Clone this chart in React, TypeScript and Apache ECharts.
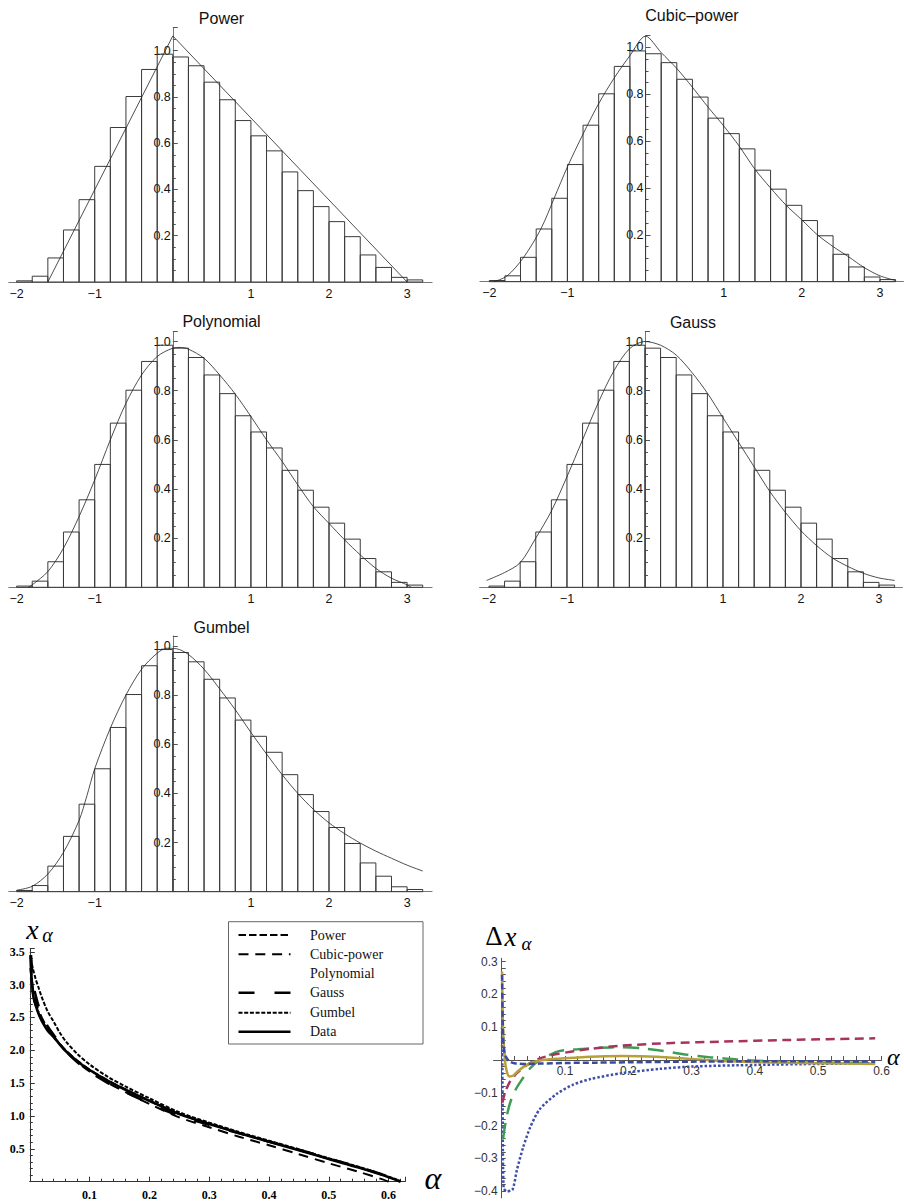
import React, { useEffect, useRef } from "react";
import * as echarts from "echarts";

// ---------- data ----------
const BIN_EDGES = [-2.0, -1.8, -1.6, -1.4, -1.2, -1.0, -0.8, -0.6, -0.4, -0.2, 0.0, 0.2, 0.4, 0.6, 0.8, 1.0, 1.2, 1.4, 1.6, 1.8, 2.0, 2.2, 2.4, 2.6, 2.8, 3.0, 3.2];
const BIN_HEIGHTS = [0.005, 0.025, 0.104, 0.225, 0.356, 0.5, 0.668, 0.802, 0.919, 0.985, 0.973, 0.935, 0.864, 0.788, 0.698, 0.632, 0.567, 0.476, 0.395, 0.326, 0.261, 0.196, 0.117, 0.063, 0.02, 0.009];
const HIST_X_LABELS = [-2, -1, 1, 2, 3];
const PANEL_TITLES = ["Power", "Cubic\u2013power", "Polynomial", "Gauss", "Gumbel"];

const POWER_FIT = [[-1.6, 0], [0, 1.064], [3.0, 0]];
const CUBIC_FIT = [[-1.94, 0], [-1.77, 0.025], [-1.56, 0.104], [-1.34, 0.225], [-1.17, 0.356], [-1.0, 0.49], [-0.8, 0.63], [-0.6, 0.76], [-0.4, 0.87], [-0.2, 0.965], [0, 1.048], [0.2, 0.978], [0.4, 0.91], [0.6, 0.83], [0.8, 0.745], [1.0, 0.665], [1.2, 0.578], [1.4, 0.48], [1.6, 0.4], [1.8, 0.326], [2.0, 0.264], [2.2, 0.2], [2.4, 0.15], [2.6, 0.106], [2.8, 0.06], [3.0, 0.025], [3.2, 0.005]];
const POLY_FIT = [[-1.85, 0], [-1.8, 0.01], [-1.6, 0.064], [-1.4, 0.159], [-1.2, 0.288], [-1.0, 0.437], [-0.8, 0.6], [-0.6, 0.749], [-0.4, 0.864], [-0.2, 0.939], [0, 0.973], [0.1, 0.976], [0.2, 0.969], [0.4, 0.932], [0.6, 0.864], [0.8, 0.786], [1.0, 0.695], [1.2, 0.6], [1.4, 0.512], [1.6, 0.417], [1.8, 0.328], [2.0, 0.26], [2.2, 0.193], [2.4, 0.132], [2.6, 0.077], [2.8, 0.037], [3.0, 0.01], [3.05, 0]];
const GAUSS_FIT = [[-2.03, 0.028], [-1.8, 0.06], [-1.6, 0.1], [-1.4, 0.2], [-1.2, 0.31], [-1.0, 0.45], [-0.8, 0.6], [-0.6, 0.75], [-0.4, 0.88], [-0.2, 0.97], [0, 1.0], [0.2, 0.985], [0.4, 0.945], [0.6, 0.875], [0.8, 0.79], [1.0, 0.69], [1.2, 0.59], [1.4, 0.49], [1.6, 0.39], [1.8, 0.305], [2.0, 0.23], [2.2, 0.17], [2.4, 0.12], [2.6, 0.085], [2.8, 0.057], [3.0, 0.038], [3.2, 0.028]];
const GUMBEL_FIT = [[-2.0, 0.006], [-1.8, 0.022], [-1.6, 0.072], [-1.4, 0.16], [-1.2, 0.29], [-1.1, 0.39], [-1.0, 0.5], [-0.8, 0.665], [-0.6, 0.8], [-0.4, 0.905], [-0.2, 0.97], [-0.08, 0.99], [0.05, 0.988], [0.2, 0.965], [0.4, 0.905], [0.6, 0.825], [0.8, 0.74], [1.0, 0.648], [1.2, 0.56], [1.4, 0.476], [1.6, 0.4], [1.8, 0.335], [2.0, 0.28], [2.2, 0.236], [2.4, 0.198], [2.6, 0.165], [2.8, 0.136], [3.0, 0.108], [3.2, 0.084]];
const FITS = [POWER_FIT, CUBIC_FIT, POLY_FIT, GAUSS_FIT, GUMBEL_FIT];

// quantile curves x_alpha vs alpha
const Q_DATA = [[0.001, 3.45], [0.003, 3.1], [0.006, 2.82], [0.01, 2.68], [0.015, 2.55], [0.02, 2.45], [0.03, 2.3], [0.04, 2.2], [0.05, 2.09], [0.06, 1.99], [0.08, 1.83], [0.1, 1.7], [0.13, 1.54], [0.16, 1.4], [0.2, 1.23], [0.25, 1.03], [0.3, 0.88], [0.35, 0.74], [0.4, 0.61], [0.45, 0.48], [0.5, 0.345], [0.55, 0.215], [0.59, 0.1], [0.61, 0.035], [0.62, 0.0]];
const Q_POWER = [[0.001, 3.25], [0.003, 3.05], [0.006, 2.81], [0.01, 2.68], [0.015, 2.555], [0.02, 2.46], [0.03, 2.31], [0.04, 2.21], [0.05, 2.1], [0.06, 2.0], [0.08, 1.84], [0.1, 1.708], [0.13, 1.547], [0.16, 1.407], [0.2, 1.236], [0.25, 1.035], [0.3, 0.884], [0.35, 0.743], [0.4, 0.613], [0.45, 0.483], [0.5, 0.349], [0.55, 0.219], [0.59, 0.105], [0.61, 0.04], [0.62, 0.005]];
const Q_CUBIC = [[0.002, 3.3], [0.005, 2.95], [0.01, 2.755], [0.015, 2.61], [0.02, 2.5], [0.03, 2.33], [0.04, 2.215], [0.05, 2.095], [0.06, 1.985], [0.08, 1.817], [0.1, 1.678], [0.13, 1.51], [0.16, 1.362], [0.2, 1.185], [0.25, 0.98], [0.3, 0.83], [0.35, 0.684], [0.4, 0.555], [0.45, 0.419], [0.5, 0.28], [0.55, 0.151], [0.59, 0.035], [0.6, 0.0]];
const Q_POLY = [[0.001, 3.25], [0.003, 3.04], [0.006, 2.84], [0.01, 2.725], [0.015, 2.6], [0.02, 2.495], [0.03, 2.327], [0.04, 2.215], [0.05, 2.097], [0.06, 1.992], [0.08, 1.827], [0.1, 1.694], [0.13, 1.531], [0.16, 1.389], [0.2, 1.218], [0.25, 1.02], [0.3, 0.877], [0.35, 0.743], [0.4, 0.616], [0.45, 0.488], [0.5, 0.355], [0.55, 0.226], [0.59, 0.112], [0.61, 0.045], [0.62, 0.01]];
const Q_GAUSS = [[0.002, 3.45], [0.006, 3.01], [0.01, 2.83], [0.015, 2.67], [0.02, 2.55], [0.03, 2.365], [0.04, 2.235], [0.05, 2.105], [0.06, 1.99], [0.08, 1.812], [0.1, 1.67], [0.13, 1.505], [0.16, 1.362], [0.2, 1.192], [0.25, 1.001], [0.3, 0.865], [0.35, 0.735], [0.4, 0.61], [0.45, 0.486], [0.5, 0.353], [0.55, 0.223], [0.59, 0.109], [0.61, 0.045], [0.62, 0.01]];
const Q_GUMBEL = [[0.0015, 3.4], [0.005, 3.25], [0.01, 3.08], [0.015, 2.945], [0.02, 2.81], [0.03, 2.59], [0.04, 2.435], [0.05, 2.27], [0.06, 2.14], [0.08, 1.94], [0.1, 1.785], [0.13, 1.6], [0.16, 1.45], [0.2, 1.27], [0.25, 1.057], [0.3, 0.9], [0.35, 0.757], [0.4, 0.625], [0.45, 0.494], [0.5, 0.357], [0.55, 0.227], [0.59, 0.11], [0.61, 0.045], [0.62, 0.01]];
const Q_X_LABELS = [0.1, 0.2, 0.3, 0.4, 0.5, 0.6];
const Q_Y_LABELS = [0.5, 1.0, 1.5, 2.0, 2.5, 3.0, 3.5];
const LEGEND_NAMES = ["Power", "Cubic-power", "Polynomial", "Gauss", "Gumbel", "Data"];

// deviations delta x_alpha
const D_POWER = [[0.0005, 0.26], [0.0015, 0.12], [0.003, 0.04], [0.006, 0.012], [0.012, -0.004], [0.02, -0.01], [0.04, -0.012], [0.06, -0.011], [0.1, -0.009], [0.15, -0.008], [0.2, -0.007], [0.3, -0.005], [0.4, -0.004], [0.5, -0.004], [0.59, -0.005]];
const D_CUBIC = [[0.001, -0.13], [0.005, -0.1], [0.013, -0.066], [0.024, -0.04], [0.04, -0.015], [0.06, 0.005], [0.087, 0.018], [0.14, 0.034], [0.19, 0.044], [0.27, 0.052], [0.35, 0.056], [0.45, 0.061], [0.59, 0.066]];
const D_POLY = [[0.0005, 0.27], [0.002, 0.1], [0.005, 0.0], [0.008, -0.035], [0.012, -0.05], [0.018, -0.048], [0.025, -0.035], [0.035, -0.02], [0.05, -0.007], [0.065, 0.0], [0.09, 0.004], [0.14, 0.01], [0.19, 0.012], [0.245, 0.01], [0.3, 0.003], [0.35, -0.003], [0.4, -0.006], [0.5, -0.01], [0.59, -0.012]];
const D_GAUSS = [[0.002, -0.24], [0.008, -0.17], [0.015, -0.12], [0.022, -0.09], [0.03, -0.065], [0.045, -0.025], [0.06, 0.0], [0.075, 0.015], [0.09, 0.027], [0.12, 0.033], [0.155, 0.037], [0.19, 0.039], [0.22, 0.036], [0.25, 0.029], [0.29, 0.017], [0.33, 0.008], [0.37, 0.002], [0.42, -0.004], [0.47, -0.007], [0.53, -0.008], [0.59, -0.009]];
const D_GUMBEL = [[0.0005, 0.1], [0.0015, -0.15], [0.003, -0.39], [0.008, -0.4], [0.017, -0.395], [0.024, -0.335], [0.034, -0.265], [0.045, -0.205], [0.06, -0.15], [0.087, -0.103], [0.113, -0.075], [0.14, -0.058], [0.19, -0.04], [0.25, -0.027], [0.3, -0.02], [0.4, -0.015], [0.5, -0.012], [0.59, -0.01]];
const D_X_LABELS = [0.1, 0.2, 0.3, 0.4, 0.5, 0.6];
const D_X_TICKS = [0.02, 0.04, 0.06, 0.08, 0.1, 0.12, 0.14, 0.16, 0.18, 0.2, 0.22, 0.24, 0.26, 0.28, 0.3, 0.32, 0.34, 0.36, 0.38, 0.4, 0.42, 0.44, 0.46, 0.48, 0.5, 0.52, 0.54, 0.56, 0.58, 0.6];
const D_Y_LABELS = [-0.4, -0.3, -0.2, -0.1, 0.1, 0.2, 0.3];
const D_Y_TICKS = [-0.4, -0.38, -0.36, -0.34, -0.32, -0.3, -0.28, -0.26, -0.24, -0.22, -0.2, -0.18, -0.16, -0.14, -0.12, -0.1, -0.08, -0.06, -0.04, -0.02, 0.02, 0.04, 0.06, 0.08, 0.1, 0.12, 0.14, 0.16, 0.18, 0.2, 0.22, 0.24, 0.26, 0.28, 0.3];

// ---------- layout / styles ----------
const SANS = '"Liberation Sans", Arial, Helvetica, sans-serif';
const SERIF = '"Liberation Serif", "Times New Roman", Times, serif';
const HIST_LAYOUT = [
  { left: 8.8, top: 27.6, width: 423.3, height: 254.4, xMin: -2.1, xMax: 3.32, yMax: 1.1, tx: 221.5, ty: 18.3, smooth: false },
  { left: 479.9, top: 35.7, width: 423.5, height: 246, xMin: -2.12, xMax: 3.3, yMax: 1.05, tx: 692, ty: 15, smooth: 0.3 },
  { left: 8.8, top: 331.7, width: 423.3, height: 255.6, xMin: -2.1, xMax: 3.32, yMax: 1.04, tx: 221.5, ty: 321.7, smooth: 0.3 },
  { left: 479.6, top: 331.7, width: 422.8, height: 255.6, xMin: -2.12, xMax: 3.3, yMax: 1.04, tx: 693, ty: 322.7, smooth: 0.3 },
  { left: 8.8, top: 636, width: 423.3, height: 255.7, xMin: -2.1, xMax: 3.32, yMax: 1.04, tx: 221.5, ty: 627.3, smooth: 0.3 },
];
const Q_GRID = { left: 29.8, top: 948.5, width: 375.5, height: 233.2 };
const D_GRID = { left: 493.5, top: 958.3, width: 388, height: 239.5 };
const D_X_RANGE = [-0.013, 0.6];
const D_Y_RANGE = [-0.42, 0.31];

const minus = (v: number, digits: number) => {
  const s = Math.abs(v).toFixed(digits);
  return v < 0 ? "\u2212" + s : s;
};

function buildOption() {
  const grids: any[] = [];
  const xAxes: any[] = [];
  const yAxes: any[] = [];
  const series: any[] = [];
  const graphics: any[] = [];
  const gridBase = { containLabel: false, outerBoundsMode: "none" };

  HIST_LAYOUT.forEach((L, i) => {
    grids.push({ ...gridBase, left: L.left, top: L.top, width: L.width, height: L.height });
    const zeroOffset = (-L.xMin / (L.xMax - L.xMin)) * L.width;
    xAxes.push({
      type: "value", gridIndex: i, min: L.xMin, max: L.xMax,
      axisLine: { show: true, onZero: false, lineStyle: { color: "#777", width: 1 } },
      axisTick: { show: false }, splitLine: { show: false },
      axisLabel: { customValues: HIST_X_LABELS, formatter: (v: number) => minus(v, 0), margin: 5, fontSize: 12.5, fontFamily: SANS, color: "#111" },
    });
    yAxes.push({
      type: "value", gridIndex: i, min: 0, max: L.yMax, interval: 0.2,
      position: "left", offset: -zeroOffset,
      axisLine: { show: true, onZero: false, lineStyle: { color: "#777", width: 1 } },
      axisTick: { show: true, inside: true, length: 5, lineStyle: { color: "#555" } },
      minorTick: { show: true, splitNumber: 4, length: 3, lineStyle: { color: "#555" } },
      splitLine: { show: false }, minorSplitLine: { show: false },
      axisLabel: {
        formatter: (v: number) => (v > 0.01 && v < 1.0001 ? v.toFixed(1) : ""),
        margin: 2, fontSize: 12.5, fontFamily: SANS, color: "#111",
      },
    });
    series.push({
      type: "custom", xAxisIndex: i, yAxisIndex: i, z: 2,
      data: BIN_HEIGHTS.map((h, k) => [BIN_EDGES[k], BIN_EDGES[k + 1], h]),
      renderItem: (params: any, api: any) => {
        const p0 = api.coord([api.value(0), api.value(2)]);
        const p1 = api.coord([api.value(1), 0]);
        return {
          type: "rect",
          shape: { x: p0[0], y: p0[1], width: p1[0] - p0[0], height: p1[1] - p0[1] },
          style: { fill: "none", stroke: "#3a3a3a", lineWidth: 1 },
        };
      },
    });
    series.push({
      type: "line", xAxisIndex: i, yAxisIndex: i, z: 5, data: FITS[i], smooth: L.smooth,
      showSymbol: false, symbol: "none", lineStyle: { color: "#222", width: 0.8 },
    });
    graphics.push({
      type: "text", x: L.tx, y: L.ty, silent: true,
      style: { text: PANEL_TITLES[i], textAlign: "center", textVerticalAlign: "middle", fontSize: 16, fontFamily: SANS, fill: "#111" },
    });
  });

  // quantile chart
  const qi = 5;
  grids.push({ ...gridBase, ...Q_GRID });
  xAxes.push({
    type: "value", gridIndex: qi, min: 0, max: 0.628, interval: 0.1,
    axisLine: { show: true, onZero: false, lineStyle: { color: "#333", width: 1 } },
    axisTick: { show: true, inside: true, length: 5, lineStyle: { color: "#333" } },
    minorTick: { show: true, splitNumber: 5, length: 3, lineStyle: { color: "#333" } },
    splitLine: { show: false },
    axisLabel: { customValues: Q_X_LABELS, formatter: (v: number) => v.toFixed(1), margin: 7, fontSize: 12, fontWeight: "bold", fontFamily: SERIF, color: "#000" },
  });
  yAxes.push({
    type: "value", gridIndex: qi, min: 0, max: 3.55, interval: 0.5,
    axisLine: { show: true, onZero: false, lineStyle: { color: "#333", width: 1 } },
    axisTick: { show: true, inside: true, length: 5, lineStyle: { color: "#333" } },
    minorTick: { show: true, splitNumber: 5, length: 3, lineStyle: { color: "#333" } },
    splitLine: { show: false },
    axisLabel: { customValues: Q_Y_LABELS, formatter: (v: number) => v.toFixed(1), margin: 5, fontSize: 12, fontWeight: "bold", fontFamily: SERIF, color: "#000" },
  });
  const qLine = (data: number[][], width: number, type: any, z: number) => ({
    type: "line", xAxisIndex: qi, yAxisIndex: qi, data, smooth: 0.3, z,
    showSymbol: false, symbol: "none", lineStyle: { color: "#000", width, type },
  });
  series.push(qLine(Q_GUMBEL, 2, [4, 1.7], 3));
  series.push(qLine(Q_GAUSS, 2.5, [16, 20], 3));
  series.push(qLine(Q_CUBIC, 2, [10, 6.8], 3));
  series.push(qLine(Q_POLY, 1, [1, 3], 3));
  series.push(qLine(Q_POWER, 2, [7.5, 3], 3));
  series.push(qLine(Q_DATA, 2.6, "solid", 4));

  // delta chart
  const di = 6;
  grids.push({ ...gridBase, ...D_GRID });
  const dxZero = ((0 - D_X_RANGE[0]) / (D_X_RANGE[1] - D_X_RANGE[0])) * D_GRID.width;
  const dyZero = ((0 - D_Y_RANGE[0]) / (D_Y_RANGE[1] - D_Y_RANGE[0])) * D_GRID.height;
  xAxes.push({
    type: "value", gridIndex: di, min: D_X_RANGE[0], max: D_X_RANGE[1],
    position: "bottom", offset: -dyZero,
    axisLine: { show: true, onZero: false, lineStyle: { color: "#555", width: 1 } },
    axisTick: { show: true, inside: true, length: 4, customValues: D_X_TICKS, lineStyle: { color: "#555" } },
    splitLine: { show: false },
    axisLabel: { customValues: D_X_LABELS, formatter: (v: number) => v.toFixed(1), margin: 5, fontSize: 12, fontFamily: SANS, color: "#333" },
  });
  yAxes.push({
    type: "value", gridIndex: di, min: D_Y_RANGE[0], max: D_Y_RANGE[1],
    position: "left", offset: -dxZero,
    axisLine: { show: true, onZero: false, lineStyle: { color: "#555", width: 1 } },
    axisTick: { show: true, inside: true, length: 4, customValues: D_Y_TICKS, lineStyle: { color: "#555" } },
    splitLine: { show: false },
    axisLabel: { customValues: D_Y_LABELS, formatter: (v: number) => minus(v, 1), margin: 4, fontSize: 12, fontFamily: SANS, color: "#333" },
  });
  const dLine = (data: number[][], color: string, type: any, z: number) => ({
    type: "line", xAxisIndex: di, yAxisIndex: di, data, smooth: 0.25, z,
    showSymbol: false, symbol: "none", lineStyle: { color, width: 2.5, type },
  });
  series.push(dLine(D_GUMBEL, "#3f4fa6", [2.5, 2], 3));
  series.push(dLine(D_GAUSS, "#3f9c54", [16, 9], 3));
  series.push(dLine(D_CUBIC, "#a8335f", [9, 5.5], 3));
  series.push(dLine(D_POLY, "#b7a136", "solid", 4));
  series.push(dLine(D_POWER, "#3b4a9e", [6, 3], 5));

  // legend box for quantile chart
  graphics.push({ type: "rect", silent: true, shape: { x: 228.5, y: 921.7, width: 194.5, height: 122.3 }, style: { fill: "#fff", stroke: "#666", lineWidth: 1 }, z: 10 });
  const legendY = [935, 954.3, 973.3, 992.7, 1012.7, 1031.7];
  const legendDash: any[] = [[7.5, 3], [10, 6.8], null, [16, 20], [4, 1.7], null];
  const legendWidth = [2, 2, 0, 2.5, 2, 2.6];
  LEGEND_NAMES.forEach((name, k) => {
    if (legendWidth[k] > 0) {
      graphics.push({
        type: "line", silent: true, z: 11,
        shape: { x1: 238.5, y1: legendY[k], x2: 290.5, y2: legendY[k] },
        style: { stroke: "#000", lineWidth: legendWidth[k], lineDash: legendDash[k] || undefined },
      });
    }
    graphics.push({
      type: "text", silent: true, z: 11, x: 310, y: legendY[k],
      style: { text: name, textAlign: "left", textVerticalAlign: "middle", fontSize: 14, fontFamily: SERIF, fill: "#111" },
    });
  });

  // axis symbols
  const sym = (text: string, x: number, y: number, size: number, italic: boolean, align = "center") => ({
    type: "text", silent: true, x, y, z: 12,
    style: { text, textAlign: align, textVerticalAlign: "middle", fontSize: size, fontStyle: italic ? "italic" : "normal", fontFamily: SERIF, fill: "#000" },
  });
  graphics.push(sym("x", 32.5, 929, 28, true));
  graphics.push(sym("\u03b1", 47.5, 935, 20, true));
  graphics.push(sym("\u03b1", 433, 1178, 32, true));
  graphics.push(sym("\u0394", 494, 935.5, 27, false));
  graphics.push(sym("x", 510.5, 937, 27, true));
  graphics.push(sym("\u03b1", 526.5, 943, 19, true));
  graphics.push(sym("\u03b1", 887, 1057, 24, true, "left"));

  return {
    animation: false,
    backgroundColor: "#ffffff",
    grid: grids,
    xAxis: xAxes,
    yAxis: yAxes,
    series,
    graphic: { elements: graphics },
  };
}

export default function App() {
  const ref = useRef<HTMLDivElement>(null);
  useEffect(() => {
    document.body.style.margin = "0";
    if (!ref.current) return;
    const chart = echarts.init(ref.current, null, { renderer: "svg", width: 904, height: 1202 });
    chart.setOption(buildOption() as any);
    return () => chart.dispose();
  }, []);
  return <div ref={ref} style={{ width: 904, height: 1202, background: "#fff" }} />;
}
